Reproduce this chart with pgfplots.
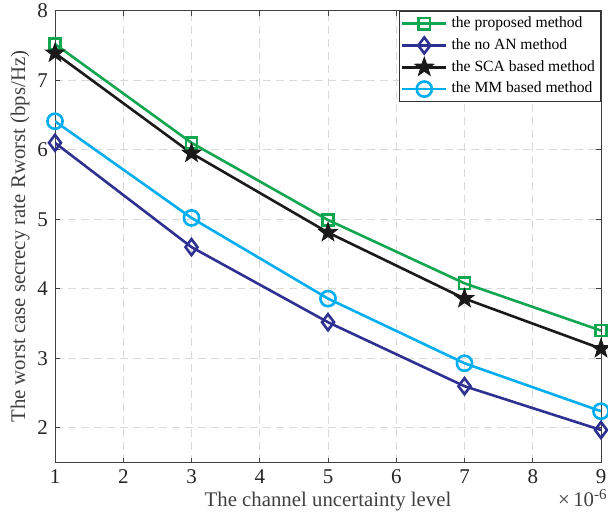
\documentclass[border=0pt]{standalone}
\usepackage{pgfplots}
\pgfplotsset{compat=1.18}
\usepackage{fontspec}
\setmainfont{Liberation Serif}
\definecolor{cprop}{HTML}{12A650}
\definecolor{cnoan}{HTML}{2E3192}
\definecolor{csca}{HTML}{1A1A1A}
\definecolor{cmm}{HTML}{00AEEF}

% filled five-pointed star, like matlab's pentagram
\pgfdeclareplotmark{pentastar}{%
  \pgfpathmoveto{\pgfpointpolar{90}{\pgfplotmarksize}}%
  \pgfpathlineto{\pgfpointpolar{126}{0.4\pgfplotmarksize}}%
  \pgfpathlineto{\pgfpointpolar{162}{\pgfplotmarksize}}%
  \pgfpathlineto{\pgfpointpolar{198}{0.4\pgfplotmarksize}}%
  \pgfpathlineto{\pgfpointpolar{234}{\pgfplotmarksize}}%
  \pgfpathlineto{\pgfpointpolar{270}{0.4\pgfplotmarksize}}%
  \pgfpathlineto{\pgfpointpolar{306}{\pgfplotmarksize}}%
  \pgfpathlineto{\pgfpointpolar{342}{0.4\pgfplotmarksize}}%
  \pgfpathlineto{\pgfpointpolar{18}{\pgfplotmarksize}}%
  \pgfpathlineto{\pgfpointpolar{54}{0.4\pgfplotmarksize}}%
  \pgfpathclose\pgfusepathqfillstroke}

\begin{document}
\begin{tikzpicture}
\path[use as bounding box] (-27.5pt,-27.5pt) rectangle (276.5pt,231.35pt);
\begin{axis}[scale only axis,width=273pt,height=226pt,
  xmin=1,xmax=9,ymin=1.5,ymax=8,xtick={1,...,9},ytick={2,...,8},
  tick align=inside,tick pos=both,major tick length=2.5pt,
  axis line style={black!75,line width=0.5pt},tick style={black!75,line width=0.5pt},
  grid=major,grid style={black!15,dash pattern=on 4pt off 2.5pt,line width=0.5pt},
  ticklabel style={font=\fontsize{10.5}{12}\selectfont,text=black!85},
  /pgf/number format/assume math mode=true,
  label style={font=\fontsize{10.4}{12}\selectfont,text=black!75},
  xlabel={The channel uncertainty level},
  ylabel={The worst case secrecy rate Rworst (bps/Hz)},
  xlabel style={yshift=3pt},ylabel style={yshift=-3pt},
  legend style={at={(1,1)},anchor=north east,draw=black!80,fill=white,
    font=\fontsize{7.8}{9}\selectfont,inner sep=0.8pt,row sep=0pt},
  legend cell align=left,
  legend image code/.code={\draw[mark repeat=2,mark phase=2] plot coordinates {(0pt,0pt)(11pt,0pt)(22pt,0pt)};},
  every axis plot/.append style={line width=1.3pt}]
\addplot[cprop,mark=square,mark size=2.8pt,mark options={solid}] coordinates {(1,7.52)(3,6.10)(5,4.99)(7,4.08)(9,3.40)};
\addlegendentry{the proposed method}
\addplot[cnoan,mark=diamond,mark size=4pt] coordinates {(1,6.10)(3,4.60)(5,3.52)(7,2.60)(9,1.97)};
\addlegendentry{the no AN method}
\addplot[csca,mark=pentastar,mark size=5pt,mark options={fill=csca,line width=0.4pt}] coordinates {(1,7.39)(3,5.95)(5,4.81)(7,3.86)(9,3.14)};
\addlegendentry{the SCA based method}
\addplot[cmm,mark=o,mark size=3.8pt] coordinates {(1,6.41)(3,5.02)(5,3.86)(7,2.93)(9,2.24)};
\addlegendentry{the MM based method}
\end{axis}
\node[anchor=base east,font=\fontsize{10.4}{12}\selectfont,text=black!75,inner sep=0pt]
  at (276pt,-22pt) {×\,10\raisebox{0.75ex}{\fontsize{7.5}{8}\selectfont -6}};
\end{tikzpicture}
\end{document}
